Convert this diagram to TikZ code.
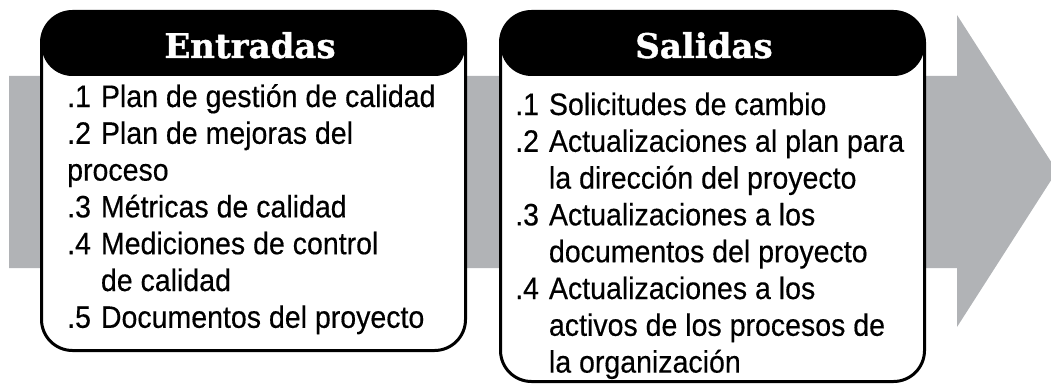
\documentclass[tikz,border=0pt]{standalone}
\usepackage{fontspec}
\usepackage{xcolor}
\newfontfamily\headfont{DejaVu Serif}[FakeBold=1.2]
\newfontfamily\listfont{Liberation Sans}[FakeStretch=0.92,FakeBold=0.4]
\usetikzlibrary{positioning}
\definecolor{bandgray}{RGB}{177,179,182}

\begin{document}
\begin{tikzpicture}[x=1pt, y=-1pt,
  box/.style={draw, line width=3pt, rounded corners=31pt, fill=white,
    minimum width=424pt,
    path picture={\fill[black] (path picture bounding box.north west)
      rectangle ([yshift=-64.5pt]path picture bounding box.north east);}},
  head/.style={anchor=base, inner sep=0pt, text=white,
    font=\headfont\bfseries\fontsize{34}{34}\selectfont},
  list/.style={anchor=base west, inner sep=0pt,
    font=\listfont\fontsize{31}{36.8}\selectfont}]

  \useasboundingbox (0,0) rectangle (1051,385);

  % Grey arrow behind the boxes
  \fill[bandgray] (9,76) -- (957,76) -- (957,15) -- (1057,171)
    -- (957,327) -- (957,268) -- (9,268) -- cycle;

  % Boxes
  \node[box, minimum height=339pt] (Ent) at (253.5,181) {};
  \node[box, minimum height=370pt] (Sal) at (712.5,196.5) {};

  % Headers
  \node[head] (EntT) at (250,58) {Entradas};
  \node[head] (SalT) at (704,58) {Salidas};

  % Lists
  \node[list] (EntL) at (67,107) {\begin{tabular}[t]{@{}l@{\hspace{10pt}}l@{}}
    .1 & Plan de gestión de calidad\\
    .2 & Plan de mejoras del\\
    \multicolumn{2}{@{}l@{}}{proceso}\\
    .3 & Métricas de calidad\\
    .4 & Mediciones de control\\
       & de calidad\\
    .5 & Documentos del proyecto
  \end{tabular}};
  \node[list] (SalL) at (515,115) {\begin{tabular}[t]{@{}l@{\hspace{10pt}}l@{}}
    .1 & Solicitudes de cambio\\
    .2 & Actualizaciones al plan para\\
       & la dirección del proyecto\\
    .3 & Actualizaciones a los\\
       & documentos del proyecto\\
    .4 & Actualizaciones a los\\
       & activos de los procesos de\\
       & la organización
  \end{tabular}};
\end{tikzpicture}
\end{document}
